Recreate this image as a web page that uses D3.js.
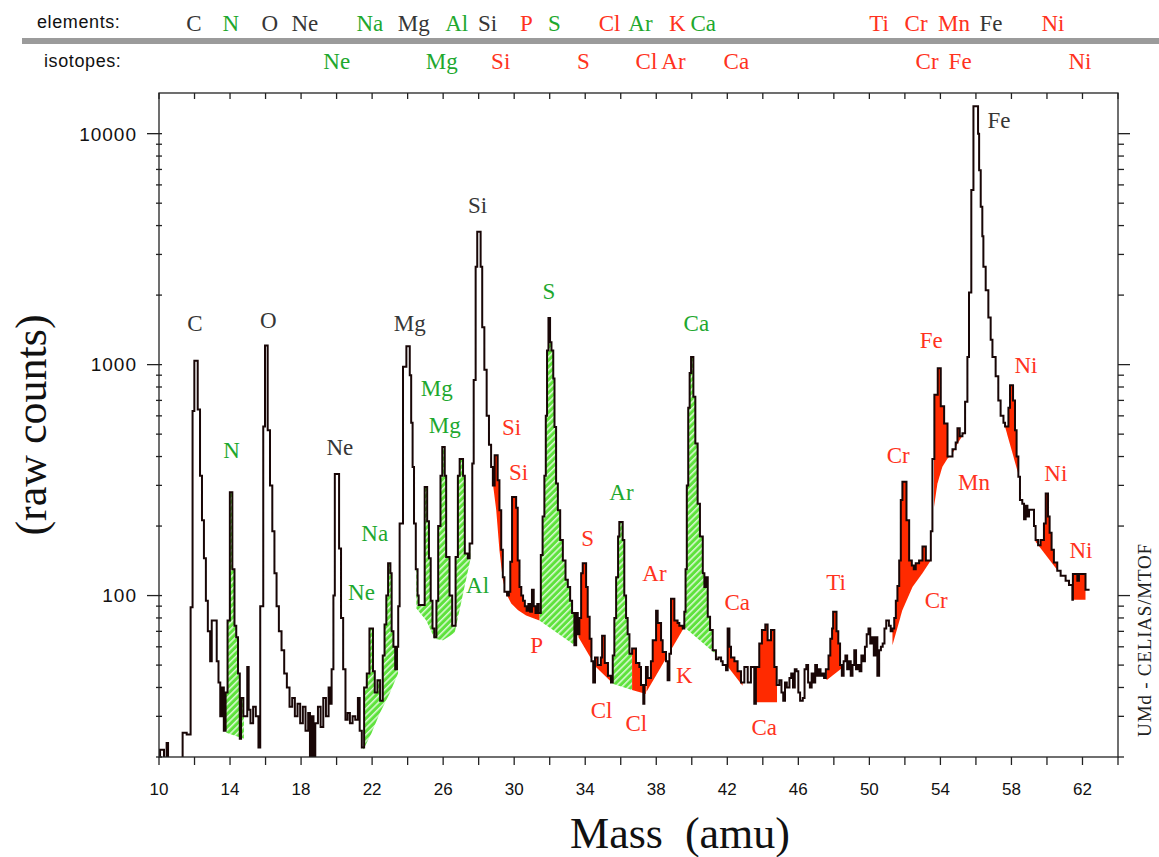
<!DOCTYPE html>
<html>
<head>
<meta charset="utf-8">
<script src="https://cdn.jsdelivr.net/npm/d3@7/dist/d3.min.js"></script>
<style>
html,body{margin:0;padding:0;background:#fff;}
svg{display:block;}
</style>
</head>
<body>
<svg id="chart" width="1159" height="857"></svg>
<script>
// ---------- DATA ----------
// spectrum: step edges (amu) and raw counts held until the next edge (values < 20 fall below the axis)
const mass = [10.0,10.06,10.28,10.43,10.51,11.33,11.56,11.78,11.89,11.99,12.18,12.31,12.42,12.53,12.64,12.75,12.88,12.97,13.25,13.35,13.45,13.55,13.65,13.75,13.86,13.99,14.13,14.25,14.35,14.45,14.55,14.62,14.75,14.97,15.05,15.15,15.3,15.45,15.6,15.7,15.87,15.97,16.12,16.25,16.38,16.5,16.62,16.75,16.9,17.05,17.2,17.35,17.5,17.65,17.8,17.95,18.1,18.25,18.4,18.5,18.6,18.7,18.8,18.95,19.1,19.25,19.4,19.55,19.65,19.72,19.82,19.9,20.14,20.25,20.37,20.5,20.62,20.75,20.9,21.05,21.2,21.3,21.42,21.55,21.7,21.85,22.05,22.15,22.3,22.45,22.6,22.7,22.8,22.9,23.03,23.1,23.2,23.3,23.4,23.47,23.55,23.74,23.93,24.12,24.2,24.28,24.36,24.46,24.56,24.62,24.96,25.1,25.2,25.3,25.4,25.5,25.62,25.72,25.85,25.95,26.09,26.17,26.36,26.51,26.7,26.83,26.93,27.12,27.22,27.39,27.49,27.64,27.72,27.83,27.92,28.11,28.2,28.32,28.45,28.58,28.7,28.8,28.9,29.07,29.17,29.27,29.36,29.45,29.6,29.7,29.78,29.88,30.11,30.2,30.3,30.4,30.5,30.6,30.7,30.8,30.9,31.0,31.1,31.2,31.3,31.38,31.5,31.6,31.7,31.78,31.85,31.93,32.02,32.1,32.2,32.27,32.36,32.46,32.59,32.74,32.89,33.02,33.15,33.26,33.39,33.49,33.58,33.67,33.77,33.86,34.05,34.14,34.25,34.35,34.45,34.55,34.7,34.88,34.95,35.1,35.28,35.45,35.55,35.64,35.74,35.85,35.92,36.11,36.2,36.3,36.39,36.49,36.64,36.86,37.05,37.14,37.27,37.33,37.42,37.52,37.7,37.8,37.99,38.08,38.27,38.36,38.55,38.64,38.74,38.83,39.02,39.2,39.3,39.49,39.58,39.65,39.72,39.8,39.88,39.96,40.09,40.2,40.33,40.46,40.62,40.71,40.8,40.9,41.03,41.18,41.36,41.5,41.65,41.74,41.93,42.02,42.12,42.21,42.4,42.58,42.77,42.96,43.15,43.33,43.52,43.61,43.8,43.95,44.14,44.27,44.46,44.65,44.78,44.93,45.05,45.15,45.25,45.35,45.5,45.6,45.7,45.8,45.9,46.0,46.1,46.25,46.35,46.45,46.55,46.65,46.75,46.85,46.95,47.05,47.15,47.25,47.35,47.45,47.55,47.7,47.8,47.9,47.96,48.15,48.25,48.35,48.45,48.55,48.65,48.75,48.85,48.95,49.05,49.15,49.25,49.35,49.45,49.55,49.65,49.75,49.85,49.95,50.05,50.15,50.25,50.35,50.45,50.55,50.65,50.75,50.85,50.95,51.1,51.2,51.3,51.4,51.49,51.58,51.68,51.77,51.86,52.09,52.24,52.39,52.5,52.61,52.8,52.99,53.18,53.46,53.55,53.66,53.85,54.02,54.21,54.4,54.68,54.86,54.96,55.09,55.24,55.39,55.52,55.61,55.74,55.86,56.12,56.18,56.27,56.36,56.42,56.55,56.7,56.83,56.93,57.11,57.26,57.39,57.55,57.64,57.83,57.92,58.09,58.2,58.29,58.39,58.48,58.61,58.71,58.8,58.9,58.99,59.27,59.36,59.5,59.64,59.83,59.93,60.06,60.15,60.26,60.39,60.58,60.77,61.05,61.24,61.43,61.46,61.71,61.8,62.17,62.4];
const counts = [15,21.5,15,23,15,25.5,25,89,630,1040,640,330,212,145,95,70,52,78,52,42,30,40,26,38,78,280,130,74,66,46,24,36,30,49,32,28,33,30,22,90,540,1210,520,300,190,125,90,70,58,46,40,33,36,30,34,28,33,26,31,15,30,15,28,33,27,36,30,40,34,48,100,336,160,80,48,29,31,28,30,29,36,26,22,40,46,72,47,38,43,35,55,75,100,138,125,70,60,48,60,90,205,980,1200,900,560,360,205,130,100,91,295,210,145,95,72,66,95,200,330,440,330,147,100,74,147,330,390,330,152,145,168,373,857,2650,3760,2650,1450,950,600,450,360,300,405,316,234,158,120,104,100,104,140,267,240,142,109,100,95,90,86,92,85,106,90,84,92,84,150,220,330,600,1150,1590,1250,1150,870,537,306,234,174,142,117,109,95,84,61,84,68,80,125,138,109,81,65,52,42,54,50,54,67,51,45,42,55,80,120,180,208,174,100,80,68,56,59,51,49,41,34,41,49,44,52,64,86,76,64,57,52,43,56,97,78,76,74,72,85,130,300,650,920,1080,726,456,250,180,125,109,120,81,71,58,53,54,52,50,47.5,72,60,54,52,47,42,49,42,49,34,49,62,71,75,64,71,49,41,43,38,35,42,40,44,46,40,48,47,38,35,36,48,50,42,40,46,42,50,45,48,45,46,44,48,55,65,72,85,70,62,50,45,52,55,48,52,45,50,58,48,50,47,55,52,60,68,72,62,66,55,66,45,58,60,62,72,78,74,70,72,80,95,110,142,259,311,212,142,135,130,138,142,163,142,190,390,740,965,660,556,400,430,460,530,490,505,690,1080,2050,5700,13150,10000,6950,4820,3600,2650,2100,1600,1280,1080,890,700,600,560,540,650,815,700,520,400,327,259,250,214,245,220,235,200,174,165,174,205,277,220,187,158,139,128,122,116,111,96,124,116,124,106,106];

// axis ticks
const xTickLabels = [10,14,18,22,26,30,34,38,42,46,50,54,58,62];
const yTickLabels = [100,1000,10000];

// shaded regions: baseline polylines [amu, counts]; spectrum above the baseline is shaded
const greenRegions = [
  [[13.77,25.5],[14.78,24]],
  [[21.49,21.4],[21.96,25.3],[22.43,30.9],[22.99,37.7],[23.46,46]],
  [[24.49,88],[25.05,78],[25.52,65],[25.99,64],[26.65,69],[27.53,143]],
  [[31.42,78],[33.4,61]],
  [[35.51,41.6],[36.64,39]],
  [[39.58,73],[41.74,52.6]]
];
const redRegions = [
  [[28.8,306],[28.99,234],[29.17,157],[29.36,117],[29.55,102],[29.83,92.5],[30.21,86.5],[30.67,82],[31.42,78]],
  [[33.62,66],[34.61,49],[35.45,42.4]],
  [[36.64,39],[37.42,37.5]],
  [[37.45,38.3],[39.58,73]],
  [[41.74,52.6],[42.86,40.7]],
  [[43.5,34.5],[44.8,34.5]],
  [[47.59,43],[48.53,49]],
  [[51.3,61],[51.86,86.5],[52.43,109],[52.99,125],[53.46,142]],
  [[53.64,242],[53.83,305],[54.11,361],[54.4,392],[54.68,412],[54.96,455],[55.33,504]],
  [[57.64,538],[58.46,321]],
  [[59.36,171],[60.58,129]],
  [[61.43,96],[62.17,96]]
];

// peak labels: text, amu, counts, group (k = element, g = shaded isotope, r = red isotope)
const peakLabels = [
  ["C",12.02,1513,"k"],["O",16.15,1560,"k"],["Ne",20.18,441,"k"],["Mg",24.12,1513,"k"],["Si",27.94,4910,"k"],["Fe",57.3,11460,"k"],
  ["N",14.09,427,"g"],["Na",22.15,187,"g"],["Ne",21.40,104,"g"],["Mg",25.64,791,"g"],["Mg",26.09,547,"g"],["Al",27.94,111,"g"],
  ["S",31.95,2080,"g"],["Ar",36.04,281,"g"],["Ca",40.26,1513,"g"],
  ["Si",29.85,537,"r"],["Si",30.25,343,"r"],["P",31.26,61,"r"],["S",34.13,178,"r"],["Cl",34.92,31.9,"r"],["Cl",36.88,28.1,"r"],
  ["Ar",37.9,125,"r"],["K",39.58,45.3,"r"],["Ca",42.56,93.7,"r"],["Ca",44.08,27,"r"],["Ti",48.13,115,"r"],["Cr",51.62,405,"r"],
  ["Cr",53.76,95.7,"r"],["Fe",53.48,1276,"r"],["Mn",55.89,310,"r"],["Ni",58.82,1000,"r"],["Ni",60.5,339,"r"],["Ni",61.91,157,"r"]
];

// header rows: text, amu, group
const headerElements = [
  ["C",11.97,"k"],["N",14.05,"g"],["O",16.24,"k"],["Ne",18.21,"k"],["Na",21.87,"g"],["Mg",24.34,"k"],["Al",26.76,"g"],["Si",28.5,"k"],
  ["P",30.69,"r"],["S",32.27,"g"],["Cl",35.37,"r"],["Ar",37.11,"g"],["K",39.19,"r"],["Ca",40.65,"g"],["Ti",50.55,"r"],["Cr",52.63,"r"],
  ["Mn",54.77,"r"],["Fe",56.85,"k"],["Ni",60.34,"r"]
];
const headerIsotopes = [
  ["Ne",20.01,"g"],["Mg",25.92,"g"],["Si",29.24,"r"],["S",33.9,"r"],["Cl",37.45,"r"],["Ar",38.97,"r"],["Ca",42.51,"r"],
  ["Cr",53.25,"r"],["Fe",55.11,"r"],["Ni",61.86,"r"]
];

// ---------- DRAWING ----------
const svg = d3.select("#chart");
const x = d3.scaleLinear().domain([10, 64]).range([159, 1118]);
const y = d3.scaleLog().domain([20, 15000]).range([757, 93]);
const L = x(10), R = x(64), T = y(15000), B = y(20);
const textColor = {k:"#363636", g:"#1ea82e", r:"#ff3220"};
const serif = "'Liberation Serif','Times New Roman',Times,serif";
const sans = "'Liberation Sans',Arial,Helvetica,sans-serif";

const defs = svg.append("defs");
const pat = defs.append("pattern").attr("id","hatch").attr("patternUnits","userSpaceOnUse")
  .attr("width",4.6).attr("height",4.6).attr("patternTransform","rotate(45)");
pat.append("rect").attr("width",4.6).attr("height",4.6).attr("fill","#5ee23c");
pat.append("line").attr("x1",0.8).attr("y1",0).attr("x2",0.8).attr("y2",4.6).attr("stroke","#ffffff").attr("stroke-width",1.2);
defs.append("clipPath").attr("id","plotclip").append("rect")
  .attr("x",L).attr("y",T).attr("width",R-L).attr("height",B-T);

// header
svg.append("rect").attr("x",22).attr("y",38).attr("width",1137).attr("height",6).attr("fill","#9b9b9b");
svg.append("text").attr("x",37).attr("y",28).attr("font-family",sans).attr("font-size",18).attr("letter-spacing",0.6)
  .attr("fill","#111").text("elements:");
svg.append("text").attr("x",44).attr("y",67).attr("font-family",sans).attr("font-size",18).attr("letter-spacing",0.6)
  .attr("fill","#111").text("isotopes:");
svg.append("g").selectAll("text").data(headerElements).join("text")
  .attr("x",d=>x(d[1])).attr("y",31).attr("text-anchor","middle")
  .attr("font-family",serif).attr("font-size",23).attr("fill",d=>textColor[d[2]]).text(d=>d[0]);
svg.append("g").selectAll("text").data(headerIsotopes).join("text")
  .attr("x",d=>x(d[1])).attr("y",69).attr("text-anchor","middle")
  .attr("font-family",serif).attr("font-size",23).attr("fill",d=>textColor[d[2]]).text(d=>d[0]);

// shaded regions
function specAt(m){ const i = Math.max(0, d3.bisectRight(mass, m) - 1); return counts[i]; }
function baseAt(b, m){
  for (let k = 0; k < b.length - 1; k++) {
    if (m >= b[k][0] && m <= b[k+1][0]) {
      const t = (m - b[k][0]) / (b[k+1][0] - b[k][0]);
      return Math.pow(10, Math.log10(b[k][1]) * (1 - t) + Math.log10(b[k+1][1]) * t);
    }
  }
  return b[b.length-1][1];
}
function regionPoints(b){
  const m0 = b[0][0], m1 = b[b.length-1][0];
  const ms = d3.range(m0, m1, 0.004).concat([m1]);
  return ms.map(m => ({m, b: baseAt(b, m), s: specAt(m)}));
}
const area = d3.area().x(d => x(d.m)).y0(d => y(d.b)).y1(d => y(Math.max(d.s, d.b)));
const plot = svg.append("g").attr("clip-path","url(#plotclip)");
plot.selectAll("path.g").data(greenRegions).join("path").attr("class","g")
  .attr("d", d => area(regionPoints(d))).attr("fill","url(#hatch)");
plot.selectAll("path.r").data(redRegions).join("path").attr("class","r")
  .attr("d", d => area(regionPoints(d))).attr("fill","#ff2a00");

// spectrum
const line = d3.line().x(d => x(d[0])).y(d => y(d[1])).curve(d3.curveStepAfter);
plot.append("path").datum(mass.map((m,i) => [m, counts[i]]))
  .attr("d", line).attr("fill","none").attr("stroke","#180606").attr("stroke-width",2)
  .attr("stroke-linejoin","miter");

// frame
svg.append("rect").attr("x",L).attr("y",T).attr("width",R-L).attr("height",B-T)
  .attr("fill","none").attr("stroke","#222").attr("stroke-width",1.3);

// x ticks
const xt = d3.range(10, 64.01, 2);
const ax = svg.append("g").attr("stroke","#222").attr("stroke-width",1.3);
ax.selectAll("line.b").data(xt).join("line").attr("class","b")
  .attr("x1",d=>x(d)).attr("x2",d=>x(d)).attr("y1",B).attr("y2",B+8);
ax.selectAll("line.t").data(xt).join("line").attr("class","t")
  .attr("x1",d=>x(d)).attr("x2",d=>x(d)).attr("y1",T).attr("y2",T+6);
svg.append("g").selectAll("text").data(xTickLabels).join("text")
  .attr("x",d=>x(d)).attr("y",795).attr("text-anchor","middle")
  .attr("font-family",sans).attr("font-size",17).attr("fill","#111").text(d=>d);

// y ticks
const yt = y.ticks().filter(v => v >= 20 && v <= 15000);
const isMajor = v => yTickLabels.includes(v);
ax.selectAll("line.l").data(yt).join("line").attr("class","l")
  .attr("x1",d=>isMajor(d)?L-12:L-3).attr("x2",L+3).attr("y1",d=>y(d)).attr("y2",d=>y(d));
ax.selectAll("line.r").data(yt).join("line").attr("class","r")
  .attr("x1",R).attr("x2",d=>isMajor(d)?R+12:R+6).attr("y1",d=>y(d)).attr("y2",d=>y(d));
svg.append("g").selectAll("text").data(yTickLabels).join("text")
  .attr("x",L-22).attr("y",d=>y(d)).attr("dy","0.36em").attr("text-anchor","end")
  .attr("font-family",sans).attr("font-size",19).attr("letter-spacing",1).attr("fill","#111").text(d=>d);

// peak labels
svg.append("g").selectAll("text").data(peakLabels).join("text")
  .attr("x",d=>x(d[1])).attr("y",d=>y(d[2])).attr("dy","0.35em").attr("text-anchor","middle")
  .attr("font-family",serif).attr("font-size",23).attr("fill",d=>textColor[d[3]]).text(d=>d[0]);

// axis titles
svg.append("text").attr("x",680).attr("y",848).attr("text-anchor","middle")
  .attr("font-family",serif).attr("font-size",44).attr("fill","#111")
  .text("Mass\u00a0\u00a0(amu)");
svg.append("text").attr("transform","translate(46,425) rotate(-90)").attr("text-anchor","middle")
  .attr("font-family",serif).attr("font-size",44).attr("fill","#111").text("(raw counts)");
svg.append("text").attr("transform","translate(1151,640) rotate(-90)").attr("text-anchor","middle")
  .attr("font-family",serif).attr("font-size",19).attr("letter-spacing",0.8).attr("fill","#222").text("UMd - CELIAS/MTOF");
</script>
</body>
</html>
